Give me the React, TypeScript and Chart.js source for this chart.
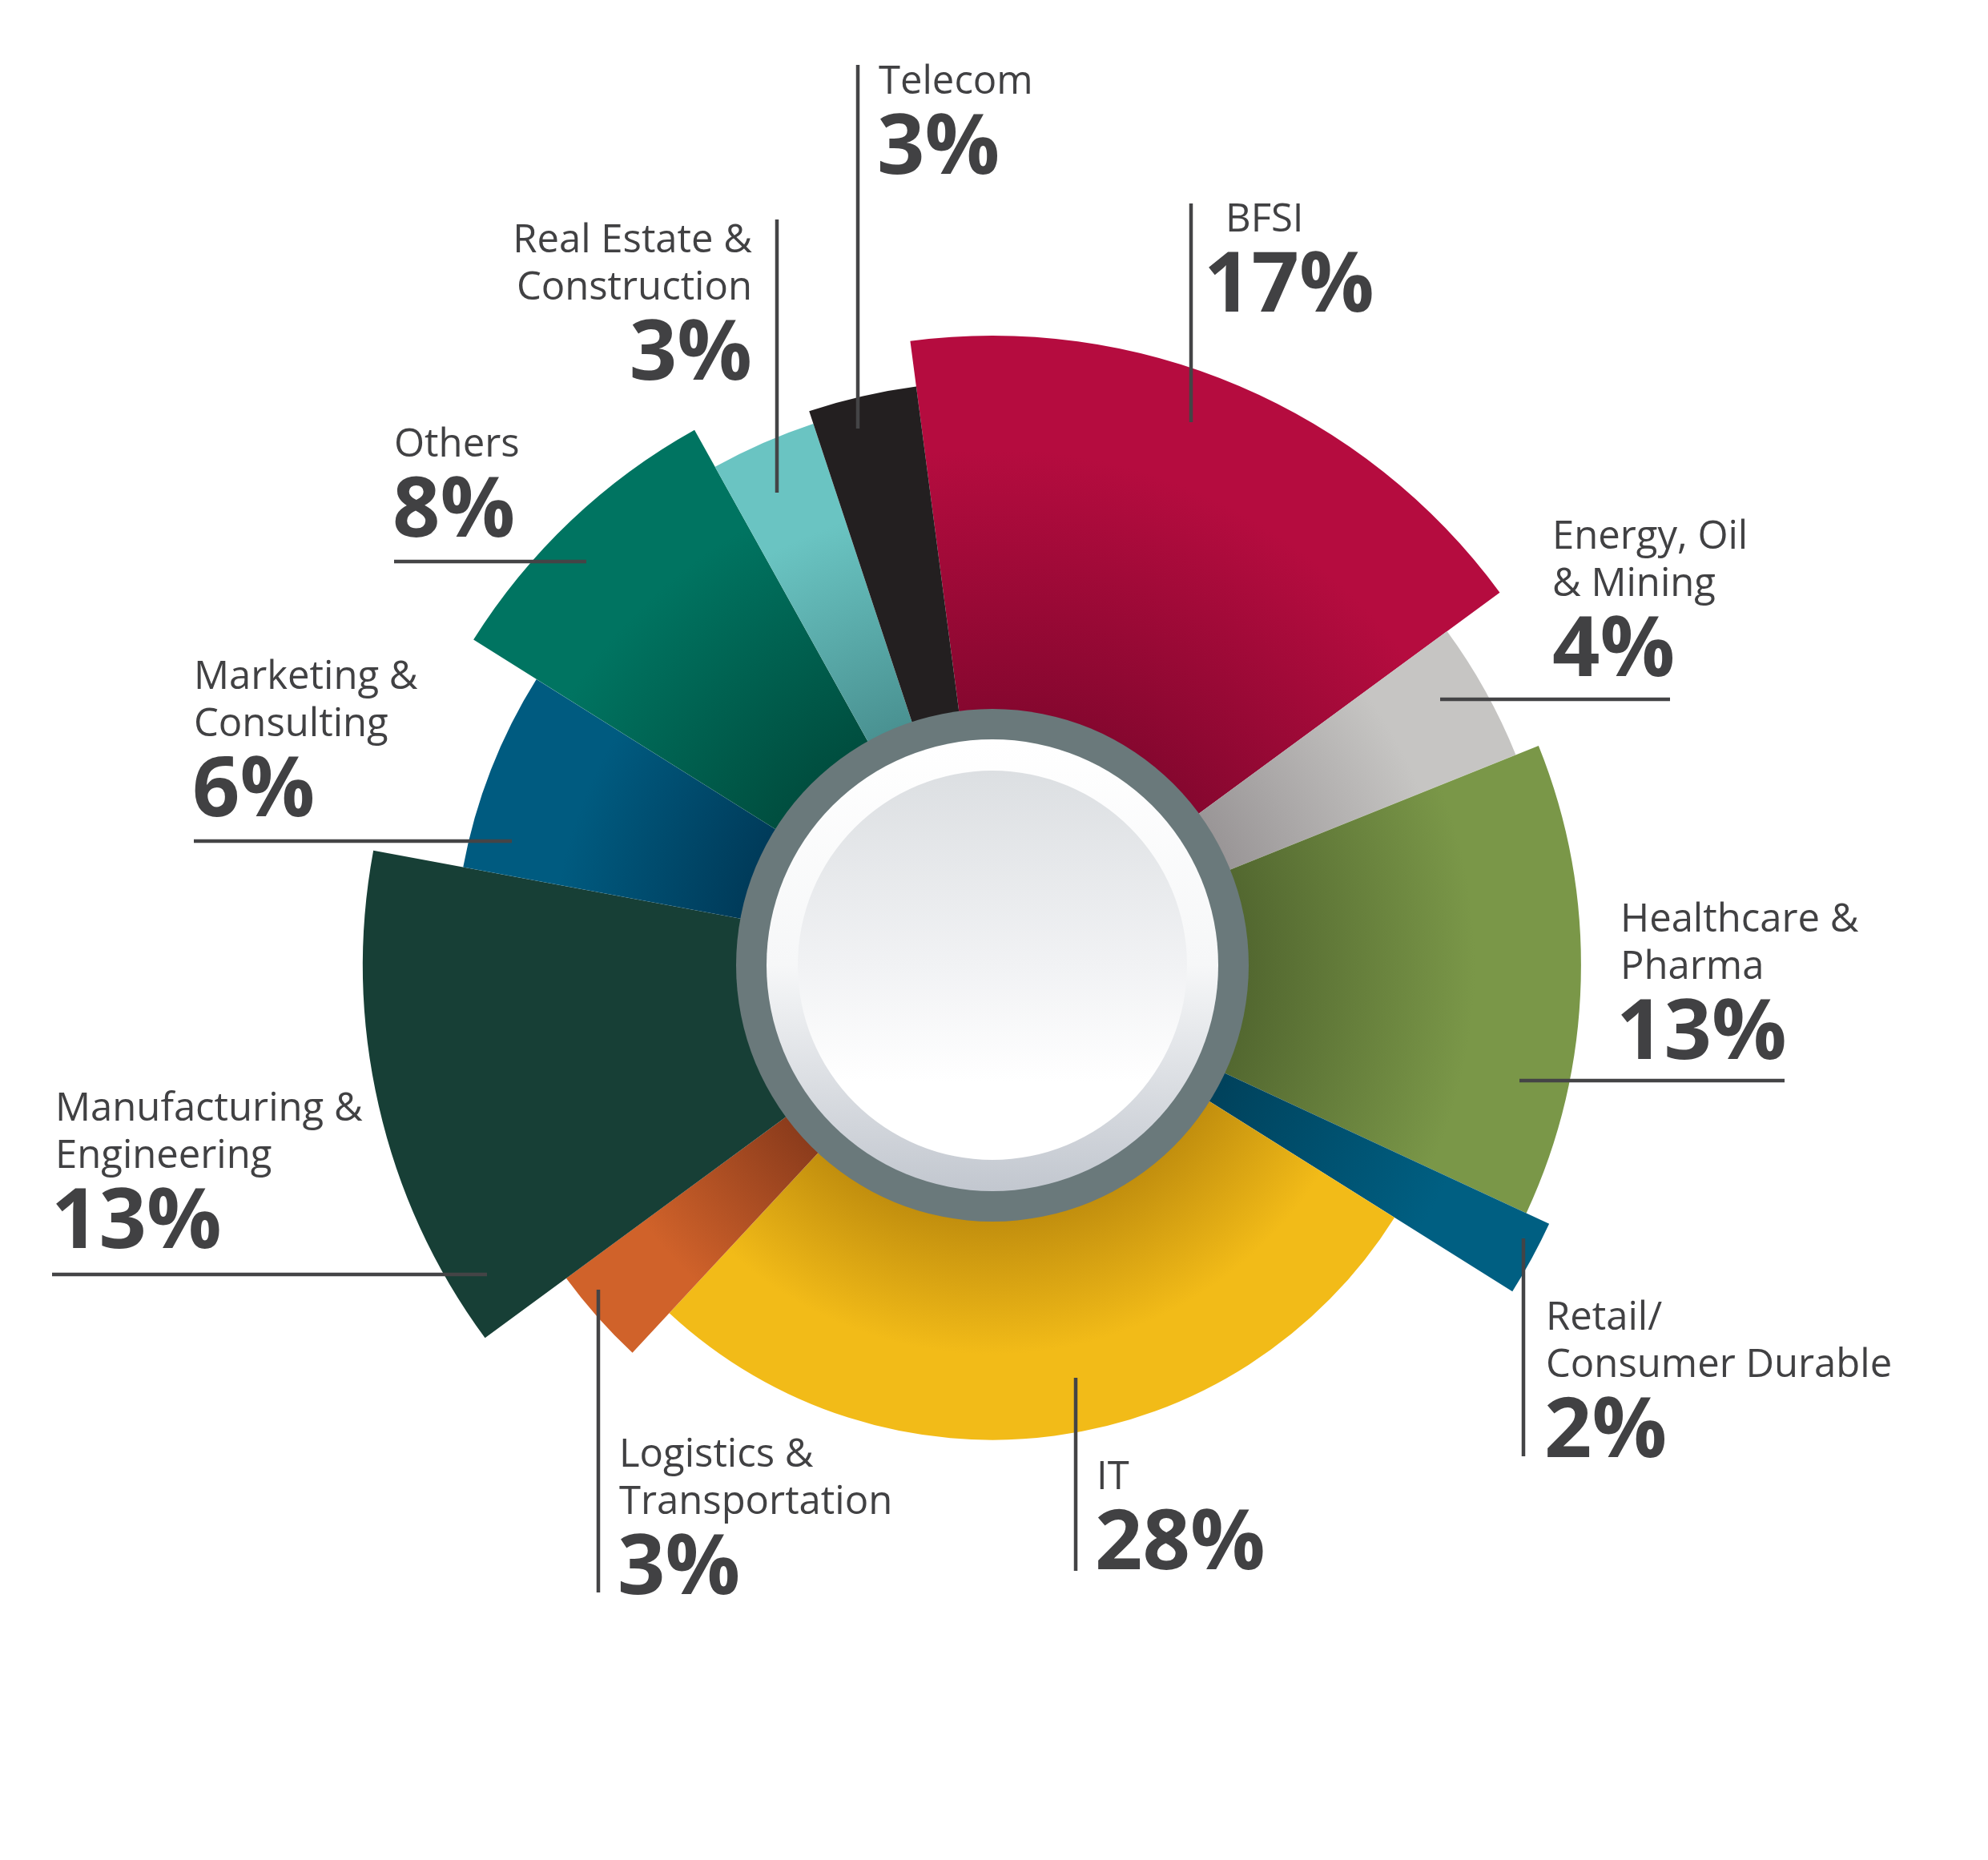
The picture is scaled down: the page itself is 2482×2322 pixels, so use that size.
import React, { useEffect, useRef } from "react";
import { Chart, registerables } from "chart.js";

Chart.register(...registerables);

// ---- data ----
const categories: string[][] = [
  ["BFSI"],
  ["Energy, Oil", "& Mining"],
  ["Healthcare &", "Pharma"],
  ["Retail/", "Consumer Durable"],
  ["IT"],
  ["Logistics &", "Transportation"],
  ["Manufacturing &", "Engineering"],
  ["Marketing &", "Consulting"],
  ["Others"],
  ["Real Estate &", "Construction"],
  ["Telecom"],
];
const shares: number[] = [17, 4, 13, 2, 28, 3, 13, 6, 8, 3, 3];
// relative outer reach of each slice (1 = longest)
const outerReach: number[] = [1.0, 0.896, 0.935, 0.975, 0.754, 0.84, 1.0, 0.855, 0.973, 0.906, 0.927];

// ---- styles ----
const innerColors = ["#86072f", "#9a9697", "#536830", "#00425c", "#c28f0e", "#8c3c1c", "#173f36", "#003b5a", "#004e3f", "#4a9292", "#231f20"];
const outerColors = ["#b50c3f", "#c6c5c3", "#7a9748", "#005f82", "#f2bb18", "#d0622a", "#173f36", "#005b80", "#007461", "#6ac4c2", "#231f20"];

type LabelLayout = {
  align: "left" | "right";
  x: number;
  pctX?: number;
  baseline: number;
  line: [number, number, number, number];
};
const labelLayout: LabelLayout[] = [
  { align: "left", x: 1530, pctX: 1508, baseline: 289, line: [1487, 254, 1487, 527] },
  { align: "left", x: 1938, baseline: 685, line: [1798, 873, 2085, 873] },
  { align: "left", x: 2023, baseline: 1163, line: [1897, 1349, 2228, 1349] },
  { align: "left", x: 1930, baseline: 1660, line: [1902, 1546, 1902, 1818] },
  { align: "left", x: 1369, baseline: 1859, line: [1343, 1720, 1343, 1961] },
  { align: "left", x: 773, baseline: 1831, line: [747, 1610, 747, 1988] },
  { align: "left", x: 69, baseline: 1399, line: [65, 1591, 608, 1591] },
  { align: "left", x: 242, baseline: 860, line: [242, 1050, 639, 1050] },
  { align: "left", x: 492, baseline: 570, line: [492, 701, 732, 701] },
  { align: "right", x: 939, baseline: 315, line: [970, 274, 970, 615] },
  { align: "left", x: 1097, baseline: 117, line: [1071, 81, 1071, 535] },
];

const W = 2482;
const H = 2322;
const CUT = 250;
const RING_OUT = 320;
const RING_IN = 282;
const INNER_DISC = 243;
const TEXT_COLOR = "#414143";
const LINE_COLOR = "#444446";

const reachPlugin = {
  id: "reach",
  afterDatasetsUpdate(chart: any) {
    const meta = chart.getDatasetMeta(0);
    meta.data.forEach((arc: any, i: number) => {
      arc.outerRadius = arc.outerRadius * outerReach[i];
    });
  },
};

const centerPlugin = {
  id: "centerDisc",
  afterDatasetsDraw(chart: any) {
    const arc = chart.getDatasetMeta(0).data[0];
    if (!arc) return;
    const ctx = chart.ctx as CanvasRenderingContext2D;
    const cx = arc.x;
    const cy = arc.y;
    ctx.save();
    ctx.beginPath();
    ctx.arc(cx, cy, RING_OUT, 0, Math.PI * 2);
    ctx.fillStyle = "#6a797b";
    ctx.fill();

    const g1 = ctx.createLinearGradient(0, cy - RING_IN, 0, cy + RING_IN);
    g1.addColorStop(0, "#ffffff");
    g1.addColorStop(0.5, "#f6f7f8");
    g1.addColorStop(1, "#c2c7cf");
    ctx.beginPath();
    ctx.arc(cx, cy, RING_IN, 0, Math.PI * 2);
    ctx.fillStyle = g1;
    ctx.fill();

    const g2 = ctx.createLinearGradient(0, cy - INNER_DISC, 0, cy + INNER_DISC);
    g2.addColorStop(0, "#dcdfe2");
    g2.addColorStop(0.5, "#f1f2f4");
    g2.addColorStop(0.8, "#ffffff");
    g2.addColorStop(1, "#ffffff");
    ctx.beginPath();
    ctx.arc(cx, cy, INNER_DISC, 0, Math.PI * 2);
    ctx.fillStyle = g2;
    ctx.fill();
    ctx.restore();
  },
};

const labelPlugin = {
  id: "sliceLabels",
  afterDraw(chart: any) {
    const ctx = chart.ctx as CanvasRenderingContext2D;
    ctx.save();
    labelLayout.forEach((lay, i) => {
      const [x1, y1, x2, y2] = lay.line;
      ctx.beginPath();
      ctx.moveTo(x1, y1);
      ctx.lineTo(x2, y2);
      ctx.strokeStyle = LINE_COLOR;
      ctx.lineWidth = 4.5;
      ctx.stroke();

      ctx.fillStyle = TEXT_COLOR;
      ctx.textAlign = lay.align;
      ctx.textBaseline = "alphabetic";
      ctx.font = "400 49px 'Open Sans'";
      const names = categories[i];
      names.forEach((n, j) => {
        ctx.fillText(n, lay.x, lay.baseline + j * 59);
      });
      ctx.font = "700 104px 'Open Sans'";
      const pctY = lay.baseline + (names.length - 1) * 59 + 100;
      const pct = shares[i] + "%";
      if (lay.align === "left") {
        const m = ctx.measureText(pct);
        const target = (lay.pctX ?? lay.x) + 1;
        ctx.fillText(pct, target + m.actualBoundingBoxLeft, pctY);
      } else {
        ctx.fillText(pct, lay.x, pctY);
      }
    });
    ctx.restore();
  },
};

export default function App() {
  const ref = useRef<HTMLCanvasElement | null>(null);

  useEffect(() => {
    const canvas = ref.current;
    if (!canvas) return;
    const chart = new Chart(canvas, {
      type: "doughnut",
      data: {
        labels: categories.map((c) => c.join(" ")),
        datasets: [
          {
            data: shares,
            borderWidth: 0,
            backgroundColor: (context: any) => {
              const i = context.dataIndex;
              const c = context.chart;
              const area = c.chartArea;
              if (!area || i === undefined) return outerColors[i ?? 0];
              const cx = (area.left + area.right) / 2;
              const cy = (area.top + area.bottom) / 2;
              const maxR = Math.min(area.right - area.left, area.bottom - area.top) / 2;
              const outR = maxR * outerReach[i];
              const g = c.ctx.createRadialGradient(cx, cy, RING_OUT, cx, cy, Math.max(RING_OUT + 40, outR * 0.82));
              g.addColorStop(0, innerColors[i]);
              g.addColorStop(1, outerColors[i]);
              return g;
            },
          },
        ],
      },
      options: {
        responsive: false,
        animation: false,
        events: [],
        rotation: -7.5,
        cutout: CUT,
        layout: { padding: { left: 453, right: 457, top: 419, bottom: 331 } },
        plugins: {
          legend: { display: false },
          tooltip: { enabled: false },
        },
      } as any,
      plugins: [reachPlugin, centerPlugin, labelPlugin],
    });
    return () => chart.destroy();
  }, []);

  return (
    <div style={{ position: "absolute", left: 0, top: 0, width: W, height: H, background: "#ffffff" }}>
      <canvas ref={ref} width={W} height={H} style={{ display: "block", width: W, height: H }} />
    </div>
  );
}
